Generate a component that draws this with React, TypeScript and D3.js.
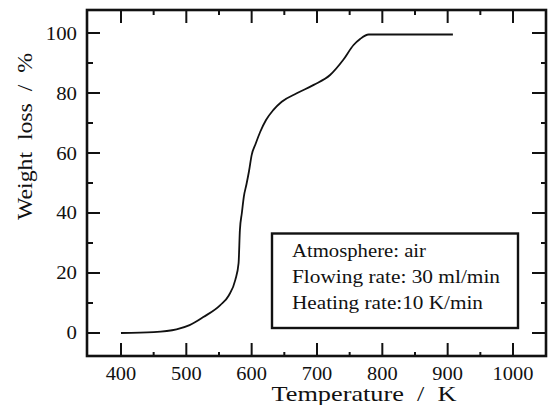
import React from 'react'
import * as d3 from 'd3'

// Weight loss curve (K, %)
const temps = [400, 450, 485, 505, 526, 552, 565, 575, 580, 582, 585, 588, 592, 596, 600, 606, 613, 622, 633, 646, 669, 695, 720, 740, 756, 766, 779, 800, 850, 908]
const loss = [0, 0.3, 1.2, 2.6, 5.3, 9.3, 12.5, 17.7, 23.3, 34.3, 40, 45.4, 49.5, 54, 59.3, 63, 67, 71, 74.3, 77.1, 79.9, 82.7, 86, 91, 96, 98, 99.5, 99.5, 99.5, 99.5]

const xTicks = [400, 500, 600, 700, 800, 900, 1000]
const xMinor = [450, 550, 650, 750, 850, 950]
const yTicks = [0, 20, 40, 60, 80, 100]
const yMinor = [10, 30, 50, 70, 90]

const legendLines = ['Atmosphere: air', 'Flowing rate: 30 ml/min', 'Heating rate:10 K/min']
const legendWidths = [134, 208, 191]

const W = 548
const H = 405
const m = { left: 87, right: 546, top: 10, bottom: 356 }
const font = '"Liberation Serif", "Times New Roman", serif'
const ink = '#111'

export default function App() {
  const x = d3.scaleLinear().domain([348, 1050.5]).range([m.left, m.right])
  const y = d3.scaleLinear().domain([-7.67, 107.67]).range([m.bottom, m.top])

  const pts = temps.map((t, i) => [t, loss[i]] as [number, number])
  const line = d3
    .line<[number, number]>()
    .x(d => x(d[0]))
    .y(d => y(d[1]))
    .curve(d3.curveMonotoneX)

  const major = 13
  return (
    <svg width={W} height={H} style={{ position: 'absolute', left: 0, top: 0, background: '#fff' }}>
      <rect x={0} y={0} width={W} height={H} fill="#fff" />

      {/* ticks */}
      <g stroke={ink} strokeWidth={2}>
        {xTicks.map(t => (
          <g key={'x' + t}>
            <line x1={x(t)} x2={x(t)} y1={m.bottom} y2={m.bottom - major} />
            <line x1={x(t)} x2={x(t)} y1={m.top} y2={m.top + major} />
          </g>
        ))}
        {xMinor.map(t => (
          <g key={'xm' + t}>
            <line x1={x(t)} x2={x(t)} y1={m.bottom} y2={m.bottom - 4} />
            <line x1={x(t)} x2={x(t)} y1={m.top} y2={m.top + 5} />
          </g>
        ))}
        {yTicks.map(t => (
          <g key={'y' + t}>
            <line x1={m.left} x2={m.left + major} y1={y(t)} y2={y(t)} />
            <line x1={m.right} x2={m.right - 14} y1={y(t)} y2={y(t)} />
          </g>
        ))}
        {yMinor.map(t => (
          <g key={'ym' + t}>
            <line x1={m.left} x2={m.left + 6} y1={y(t)} y2={y(t)} />
            <line x1={m.right} x2={m.right - 5} y1={y(t)} y2={y(t)} />
          </g>
        ))}
      </g>

      {/* frame */}
      <rect
        x={m.left}
        y={m.top}
        width={m.right - m.left}
        height={m.bottom - m.top}
        fill="none"
        stroke={ink}
        strokeWidth={2.6}
      />

      {/* tick labels */}
      <g fontFamily={font} fontSize={19} fill={ink}>
        {yTicks.map(t => (
          <text
            key={'yl' + t}
            x={77}
            y={y(t) + 6.5}
            textAnchor="end"
            textLength={String(t).length * 10.4}
            lengthAdjust="spacingAndGlyphs"
          >
            {t}
          </text>
        ))}
        {xTicks.map(t => (
          <text
            key={'xl' + t}
            x={x(t)}
            y={380}
            textAnchor="middle"
            textLength={String(t).length * 10.2}
            lengthAdjust="spacingAndGlyphs"
          >
            {t}
          </text>
        ))}
      </g>

      {/* axis titles */}
      <text
        x={364}
        y={401}
        textAnchor="middle"
        fontFamily={font}
        fontSize={21}
        fill={ink}
        textLength={185}
        lengthAdjust="spacingAndGlyphs"
        style={{ whiteSpace: 'pre' }}
      >
        {'Temperature  /  K'}
      </text>
      <text
        transform="translate(32,136.5) rotate(-90)"
        textAnchor="middle"
        fontFamily={font}
        fontSize={21}
        fill={ink}
        textLength={167}
        lengthAdjust="spacingAndGlyphs"
        style={{ whiteSpace: 'pre' }}
      >
        {'Weight  loss  /  %'}
      </text>

      {/* curve */}
      <path d={line(pts) || ''} fill="none" stroke={ink} strokeWidth={1.8} />

      {/* legend */}
      <rect x={272} y={233.5} width={246} height={94.5} fill="#fff" stroke={ink} strokeWidth={2.4} />
      <g fontFamily={font} fontSize={18.5} fill={ink}>
        {legendLines.map((s, i) => (
          <text
            key={s}
            x={292}
            y={257 + i * 26}
            textLength={legendWidths[i]}
            lengthAdjust="spacingAndGlyphs"
          >
            {s}
          </text>
        ))}
      </g>
    </svg>
  )
}
